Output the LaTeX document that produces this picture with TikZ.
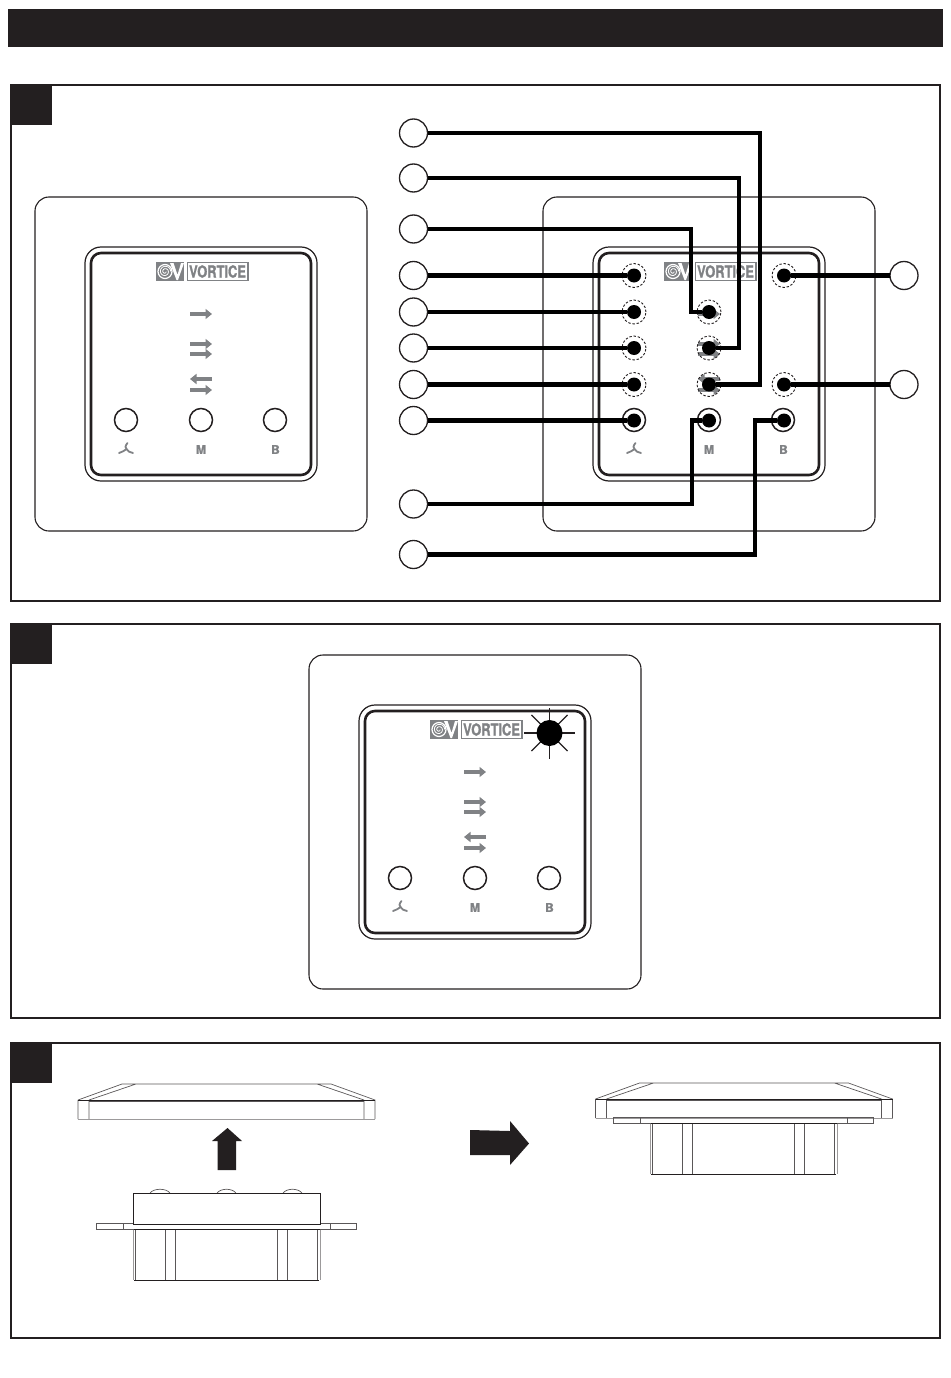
\documentclass[tikz,border=0pt]{standalone}
\usepackage{fontspec}
\setsansfont{TeX Gyre Heros}
\newfontfamily\logofont[BoldFeatures={FakeBold=1.6}]{TeX Gyre Heros}
\usetikzlibrary{arrows.meta}

\definecolor{ink}{HTML}{231F20}
\definecolor{logogrey}{HTML}{808285}

\begin{document}
\begin{tikzpicture}[
  x=1pt,
  y=-1pt,
  inner sep=0pt,
  outer sep=0pt,
  panel/.style={draw=ink, line width=1.4pt},
  tab/.style={fill=ink},
  plate/.style={draw=ink, line width=1.1pt, rounded corners=14pt},
  rim/.style={draw=ink, line width=1.2pt, rounded corners=16pt},
  frontface/.style={draw=ink, line width=2.6pt, rounded corners=10pt},
  button/.style={circle, draw=ink, line width=1.5pt, minimum size=23pt},
  spot/.style={circle, draw=ink, dashed, dash pattern=on 2.4pt off 1.8pt, line width=.9pt, minimum size=24pt},
  dot/.style={circle, fill=black, minimum size=14pt},
  callout/.style={circle, draw=ink, line width=1.3pt, fill=white, minimum size=28pt},
  wire/.style={draw=black, line width=4.6pt},
  flow/.style={draw=logogrey, line width=3.8pt, -{Triangle[length=6.5pt, width=10pt]}},
  legend/.style={text=logogrey, font=\logofont\bfseries\fontsize{12}{12}\selectfont},
  edge line/.style={draw=ink!75, line width=.7pt},
  soft line/.style={draw=ink!45, line width=.9pt},
  hard line/.style={draw=ink, line width=1.3pt},
  big arrow/.style={fill=ink},
]
  \useasboundingbox (0, 0) rectangle (950, 1378);

  % wall plate with the front, drawn at an offset
  \def\FacePlate#1#2#3{
    \begin{scope}[shift={(#2, #3)}, name prefix=#1]
      \draw[plate] (35, 197) rectangle (367, 531);
      \draw[rim] (85, 247) rectangle (317, 481);
      \draw[frontface] (91, 253) rectangle (311, 475);
      \fill[logogrey] (156, 262) rectangle (184, 281);
      \draw[white, line width=1.2pt] (165, 271.5) circle (7);
      \draw[white, line width=.8pt] plot[domain=0:720, samples=40, smooth]
        ({165 + (1 + \x/150)*cos(\x)}, {271.5 + (1 + \x/150)*sin(\x)})
      ;
      \fill[white] (170, 263) -- (173.5, 263) -- (177.5, 275) -- (181, 263) -- (184, 263) -- (178, 280) -- (176.5, 280) -- cycle;
      \draw[logogrey, line width=1.4pt] (187.5, 262.5) rectangle (248, 280.5);
      \node[xscale=.78, text=logogrey, font=\logofont\bfseries\fontsize{16.5}{16.5}\selectfont] (logo) at (217.5, 271.5) {VORTICE};
      \draw[flow] (190, 314) -- (212, 314);
      \draw[flow] (190, 344) -- (212, 344);
      \draw[flow] (190, 354) -- (212, 354);
      \draw[flow] (212, 379) -- (190, 379);
      \draw[flow] (190, 390) -- (212, 390);
      \foreach \name/\cx in {a/126, m/201, b/275} {
        \node[button] (btn\name) at (\cx, 420) {};
      }
      \draw[logogrey, line width=1.8pt, line cap=round]
        (127.5, 443) .. controls (125, 446) and (125, 448) .. (126.5, 449)
        (126.5, 449) .. controls (124, 451) and (122, 452) .. (119, 453)
        (126.5, 449) .. controls (128, 451) and (130, 453) .. (133, 453)
      ;
      \node[legend] (lblm) at (201, 449.5) {M};
      \node[legend] (lblb) at (275.5, 449.5) {B};
    \end{scope}
  }

  % cover and box seen from the side
  \def\CoverSide#1#2{
    \begin{scope}[shift={(#1, #2)}]
      \draw[edge line]
        (78, 1100) -- (122, 1084) -- (331, 1084) -- (375, 1100) -- (375, 1119)
        (78, 1119) -- (78, 1100)
        (89, 1100) -- (136, 1084)
        (364, 1100) -- (317, 1084)
        (89, 1100) -- (89, 1119)
        (364, 1100) -- (364, 1119)
      ;
      \draw[soft line] (78, 1119) -- (375, 1119);
      \draw[hard line, line width=.9pt] (78, 1100) -- (375, 1100);
      \draw[edge line] (89, 1101.5) -- (364, 1101.5);
    \end{scope}
  }
  \def\BoxSide#1#2{
    \begin{scope}[shift={(#1, #2)}]
      \draw[edge line]
        (96, 1223) rectangle (356, 1229.5)
        (123, 1223) -- (123, 1229.5)
        (330, 1223) -- (330, 1229.5)
        (135.5, 1230) -- (135.5, 1280)
        (165.5, 1230) -- (165.5, 1280)
        (175.5, 1230) -- (175.5, 1280)
        (277, 1230) -- (277, 1280)
        (287, 1230) -- (287, 1280)
        (317.5, 1230) -- (317.5, 1280)
      ;
      \draw[soft line] (133, 1230) -- (133, 1280) (320, 1230) -- (320, 1280);
      \draw[hard line] (134, 1229.8) -- (320, 1229.8);
      \draw[hard line] (134, 1280.5) -- (319, 1280.5);
    \end{scope}
  }

  \fill[tab] (8, 9) rectangle (943, 47);

  % panels
  \foreach \top/\bot in {85/601, 624/1018, 1043/1338} {
    \draw[panel] (11, \top) rectangle (940, \bot);
    \fill[tab] (11, \top) rectangle (52, \top + 40);
  }

  % panel 1
  \FacePlate{L}{0}{0}
  \FacePlate{R}{508}{0}
  \foreach \name/\cx/\cy in {
    a1/634/275.5,
    a2/634/312,
    a3/634/348,
    a4/634/384.5,
    m2/709/312,
    m3/709/348,
    m4/709/384.5,
    b1/784/275.5,
    b4/784/384.5%
  } {
    \node[spot] (ring\name) at (\cx, \cy) {};
    \node[dot] (dot\name) at (\cx, \cy) {};
  }
  \foreach \name/\cx in {a5/634, m5/709, b5/784} {
    \node[dot] (dot\name) at (\cx, 420.5) {};
  }
  \foreach \name/\cy in {
    c1/133,
    c2/178,
    c3/229,
    c4/275.5,
    c5/312,
    c6/348,
    c7/384.5,
    c8/420.5,
    c9/504,
    c10/554.5%
  } {
    \node[callout] (\name) at (413.5, \cy) {};
  }
  \node[callout] (r1) at (904, 275.5) {};
  \node[callout] (r2) at (904, 384.5) {};
  \coordinate (bendc1) at (760, 300);
  \coordinate (bendc2) at (739, 300);
  \coordinate (bendc3) at (691, 300);
  \coordinate (bendc9) at (692, 460);
  \coordinate (bendc10) at (755, 460);
  \draw[wire] (c1) -| (bendc1) |- (dotm4);
  \draw[wire] (c2) -| (bendc2) |- (dotm3);
  \draw[wire] (c3) -| (bendc3) |- (dotm2);
  \draw[wire] (c4) -- (dota1);
  \draw[wire] (c5) -- (dota2);
  \draw[wire] (c6) -- (dota3);
  \draw[wire] (c7) -- (dota4);
  \draw[wire] (c8) -- (dota5);
  \draw[wire] (c9) -| (bendc9) |- (dotm5);
  \draw[wire] (c10) -| (bendc10) |- (dotb5);
  \draw[wire] (r1) -- (dotb1);
  \draw[wire] (r2) -- (dotb4);

  % panel 2
  \FacePlate{M}{274}{458}
  \coordinate (lampc) at (549.5, 733);
  \foreach \ang in {0, 45, ..., 315} {
    \draw[ink, line width=1.3pt] (lampc) -- ++(\ang:25.5);
  }
  \node[circle, fill=black, minimum size=26pt] (lamp) at (lampc) {};

  % panel 3
  \CoverSide{0}{0}
  \CoverSide{517.5}{-1}
  \BoxSide{517}{-106}
  \BoxSide{0}{0}
  \draw[edge line]
    (150, 1193) .. controls (154, 1188) and (166, 1188) .. (170, 1193)
    (217, 1193) .. controls (221, 1188) and (232, 1188) .. (236, 1193)
    (283, 1193) .. controls (287, 1188) and (298, 1188) .. (302, 1193)
  ;
  \draw[hard line, fill=white] (133.5, 1193.5) rectangle (320.5, 1224.5);
  \fill[big arrow] (227.5, 1128) -- (242, 1141) -- (236, 1141) -- (236, 1170) -- (217.5, 1170) -- (217.5, 1141) -- (212, 1141) -- cycle;
  \fill[big arrow] (470, 1130) -- (510, 1131) -- (510, 1121) -- (529, 1143.5) -- (510, 1165) -- (510, 1155) -- (470, 1155) -- cycle;
\end{tikzpicture}
\end{document}
